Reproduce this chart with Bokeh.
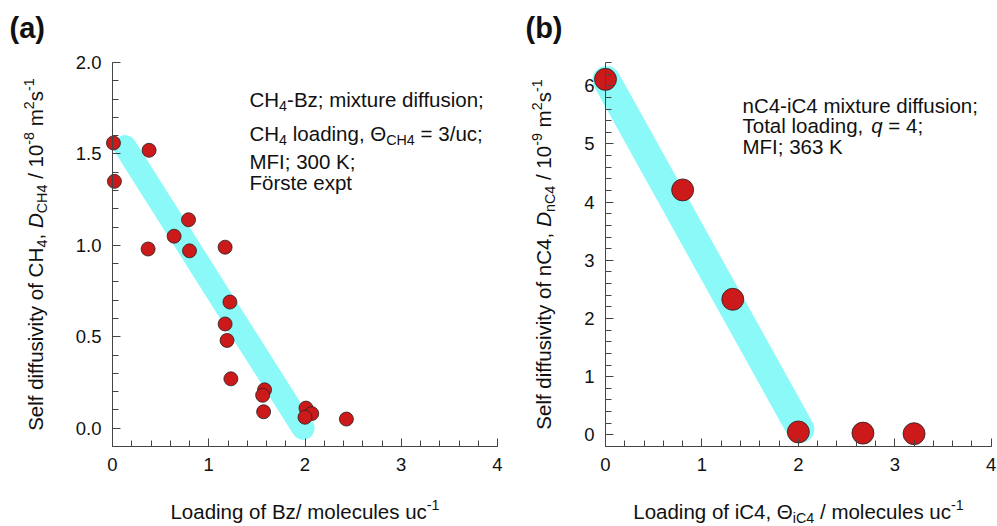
import numpy as np
from bokeh.plotting import figure
from bokeh.models import Label, FixedTicker, PrintfTickFormatter, Range1d
from bokeh.layouts import row
from bokeh.embed import file_html
from bokeh.resources import INLINE

# ---------------- data ----------------
# (a) CH4 self diffusivity vs. benzene loading, MFI, 300 K
bz_loading = [0.01, 0.02, 0.38, 0.37, 0.64, 0.79, 0.80, 1.17, 1.22, 1.17,
              1.19, 1.23, 1.58, 1.56, 1.57, 2.01, 2.07, 2.00, 2.43]
d_ch4 = [1.56, 1.35, 1.52, 0.98, 1.05, 1.14, 0.97, 0.99, 0.69, 0.57,
         0.48, 0.27, 0.21, 0.18, 0.09, 0.11, 0.08, 0.06, 0.05]
trend_a_x = [0.13, 1.98]
trend_a_y = [1.54, 0.00]

# (b) nC4 self diffusivity vs. iC4 loading, MFI, 363 K
ic4_loading = [0.00, 0.80, 1.32, 2.00, 2.67, 3.20]
d_nc4 = [6.11, 4.21, 2.33, 0.05, 0.03, 0.02]
trend_b_x = [0.01, 2.02]
trend_b_y = [6.10, 0.10]

x_major = [0, 1, 2, 3, 4]
x_minor = [round(0.2 * i, 1) for i in range(21)]
ya_major = [0.0, 0.5, 1.0, 1.5, 2.0]
ya_minor = [round(-0.1 + 0.1 * i, 1) for i in range(22)]
yb_major = [0, 1, 2, 3, 4, 5, 6]
yb_minor = [round(-0.2 + 0.2 * i, 1) for i in range(34)]

FONT = "Liberation Sans"
INK = "#111111"
AXIS = "#444444"
RED = "#cc1a1a"
CYAN = "#8cf9f9"
H = 526

# Arial / Liberation Sans advance widths (1/1000 em)
_W = {' ': 278, ',': 278, '-': 333, '.': 278, '/': 278, ':': 278, ';': 278,
      '=': 584, '(': 333, ')': 333, 'Θ': 778, 'ö': 556,
      'A': 667, 'B': 667, 'C': 722, 'D': 722, 'E': 667, 'F': 611, 'G': 778,
      'H': 722, 'I': 278, 'J': 500, 'K': 667, 'L': 556, 'M': 833, 'N': 722,
      'O': 778, 'P': 667, 'Q': 778, 'R': 722, 'S': 667, 'T': 611, 'U': 722,
      'V': 667, 'W': 944, 'X': 667, 'Y': 667, 'Z': 611,
      'a': 556, 'b': 556, 'c': 500, 'd': 556, 'e': 556, 'f': 278, 'g': 556,
      'h': 556, 'i': 222, 'j': 222, 'k': 500, 'l': 222, 'm': 833, 'n': 556,
      'o': 556, 'p': 556, 'q': 556, 'r': 333, 's': 500, 't': 278, 'u': 556,
      'v': 500, 'w': 722, 'x': 500, 'y': 500, 'z': 500}


def text_width(s, size):
    return sum(_W.get(ch, 556) for ch in s) * size / 1000.0


SMALL = 0.7
BASE_FIX = 0.34   # label anchor sits this far (in em) below the glyph baseline


def piece_size(style, size):
    return size * SMALL if style in ("sub", "sup") else size


def rich_width(pieces, size):
    return sum(text_width(t, piece_size(st, size)) for t, st in pieces)


def rich(p, geo, X, Y, pieces, size, vertical=False, color=INK):
    """Draw a run of text pieces (normal / italic / bold / sub / sup)
    starting at page position (X, Y) on the baseline."""
    ox = X - geo["x0"]
    oy = H - Y
    adv = 0.0
    for txt, st in pieces:
        s = piece_size(st, size)
        shift = {"sub": -0.2 * size, "sup": 0.42 * size}.get(st, 0.0)
        shift += BASE_FIX * s
        body = txt.strip(" ")
        lead = text_width(" " * (len(txt) - len(txt.lstrip(" "))), s)
        a = adv + lead
        if vertical:
            x, y, ang = ox - shift, oy + a, np.pi / 2
        else:
            x, y, ang = ox + a, oy + shift, 0.0
        style = {"i": "italic", "b": "bold"}.get(st, "normal")
        if body:
            p.add_layout(Label(x=x, y=y, x_units="screen", y_units="screen",
                               text=body, angle=ang, text_font=FONT,
                               text_font_size=f"{s:.1f}px",
                               text_font_style=style,
                               text_color=color, text_baseline="alphabetic",
                               text_align="left"))
        adv += text_width(txt, s)


def make_panel(geo, y_lo, y_hi, y_major, y_minor, y_fmt):
    # the plot frame fills the whole canvas; axes sit at fixed data positions
    w = geo["width"]
    x0_px, x4_px = geo["x_zero"] - geo["x0"], geo["x_four"] - geo["x0"]
    sx = (x4_px - x0_px) / 4.0
    ylo_px, yhi_px = geo["y_lo_px"], geo["y_hi_px"]
    sy = (ylo_px - yhi_px) / (y_hi - y_lo)
    xr = Range1d(-x0_px / sx, (w - x0_px) / sx)
    yr = Range1d(y_lo - (H - ylo_px) / sy, y_hi + yhi_px / sy)
    p = figure(width=w, height=H, output_backend="svg",
               toolbar_location=None, x_range=xr, y_range=yr,
               min_border_left=0, min_border_right=0,
               min_border_top=0, min_border_bottom=0)
    p.outline_line_color = None
    p.grid.visible = False
    p.background_fill_color = "white"
    p.border_fill_color = "white"

    xa = p.xaxis[0]
    xa.ticker = FixedTicker(ticks=x_major, minor_ticks=x_minor)
    xa.bounds = (0, 4)
    xa.fixed_location = y_lo
    ya = p.yaxis[0]
    ya.ticker = FixedTicker(ticks=y_major, minor_ticks=y_minor)
    ya.bounds = (y_lo, y_hi)
    ya.fixed_location = 0
    if y_fmt:
        ya.formatter = PrintfTickFormatter(format=y_fmt)
    for ax in (xa, ya):
        ax.axis_line_color = AXIS
        ax.major_tick_line_color = AXIS
        ax.minor_tick_line_color = AXIS
        ax.major_tick_in = 8
        ax.major_tick_out = 0
        ax.minor_tick_in = 6
        ax.minor_tick_out = 0
        ax.major_label_standoff = 11
        ax.major_label_text_font = FONT
        ax.major_label_text_font_size = "18.5px"
        ax.major_label_text_color = INK
    return p


NOTE = 20.5
LAB = 20.5
XLAB_BASE = 518

# ---------------- panel (a) ----------------
geo_a = dict(x0=0, width=520, x_zero=112, x_four=497, y_lo_px=446, y_hi_px=62)
pa = make_panel(geo_a, -0.1, 2.0, ya_major, ya_minor, "%.1f")
pa.line(trend_a_x, trend_a_y, line_width=23, line_color=CYAN, line_cap="round")
pa.scatter(bz_loading, d_ch4, size=14, fill_color=RED, line_color="#222222",
           line_width=0.8)

rich(pa, geo_a, 9, 37, [("(a)", "b")], 29)

lab_ax = [("Loading of Bz/ molecules uc", "n"), ("-1", "sup")]
rich(pa, geo_a, 304.5 - rich_width(lab_ax, LAB) / 2, XLAB_BASE, lab_ax, LAB)

lab_ay = [("Self diffusivity of CH", "n"), ("4", "sub"), (", ", "n"),
          ("D", "i"), ("CH4", "sub"), (" / 10", "n"), ("-8", "sup"),
          (" m", "n"), ("2", "sup"), ("s", "n"), ("-1", "sup")]
rich(pa, geo_a, 42, 254 + rich_width(lab_ay, LAB) / 2, lab_ay, LAB,
     vertical=True)

note_a = [
    [("CH", "n"), ("4", "sub"), ("-Bz; mixture diffusion;", "n")],
    [("CH", "n"), ("4", "sub"), (" loading, Θ", "n"), ("CH4", "sub"),
     (" = 3/uc;", "n")],
    [("MFI; 300 K;", "n")],
    [("Förste expt", "n")],
]
for pieces, yb in zip(note_a, [106, 140, 168, 189]):
    rich(pa, geo_a, 249, yb, pieces, NOTE)

# ---------------- panel (b) ----------------
geo_b = dict(x0=520, width=477, x_zero=605, x_four=990.7, y_lo_px=446,
             y_hi_px=62)
pb = make_panel(geo_b, -0.2, 6.4, yb_major, yb_minor, None)
pb.line(trend_b_x, trend_b_y, line_width=28, line_color=CYAN, line_cap="round")
pb.scatter(ic4_loading, d_nc4, size=22, fill_color=RED, line_color="#222222",
           line_width=0.8)

rich(pb, geo_b, 525, 37, [("(b)", "b")], 29)

lab_bx = [("Loading of iC4, Θ", "n"), ("iC4", "sub"),
          (" / molecules uc", "n"), ("-1", "sup")]
rich(pb, geo_b, 798 - rich_width(lab_bx, LAB) / 2, XLAB_BASE, lab_bx, LAB)

lab_by = [("Self diffusivity of nC4, ", "n"), ("D", "i"), ("nC4", "sub"),
          (" / 10", "n"), ("-9", "sup"), (" m", "n"), ("2", "sup"),
          ("s", "n"), ("-1", "sup")]
rich(pb, geo_b, 550, 254 + rich_width(lab_by, LAB) / 2, lab_by, LAB,
     vertical=True)

note_b = [
    [("nC4-iC4 mixture diffusion;", "n")],
    [("Total loading, ", "n"), ("q", "i"), (" = 4;", "n")],
    [("MFI; 363 K", "n")],
]
for pieces, yb in zip(note_b, [112, 132, 153]):
    rich(pb, geo_b, 742, yb, pieces, NOTE)

layout = row(pa, pb)
open("out.html", "w").write(file_html(layout, INLINE))
